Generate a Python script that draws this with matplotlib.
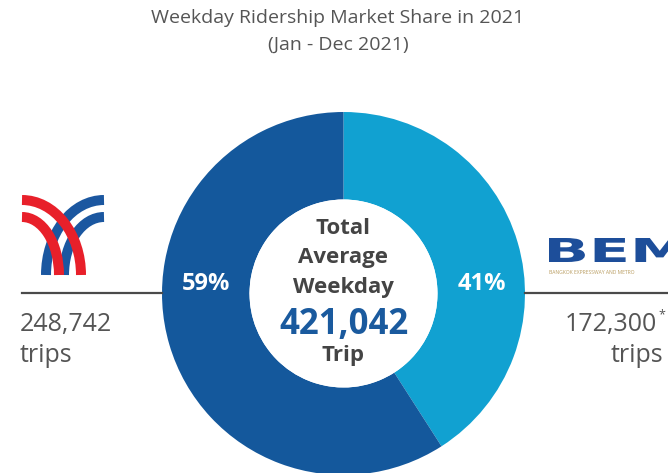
import matplotlib.pyplot as plt
from matplotlib.patches import Arc, Circle, PathPatch
from matplotlib.textpath import TextPath
from matplotlib.font_manager import FontProperties
from matplotlib.transforms import Affine2D

plt.rcParams['font.family'] = ['Open Sans', 'DejaVu Sans']

# ---------------- data ----------------
operators = ["BEM", "BTS"]
trips = [172300, 248742]
colors = ["#11a1d1", "#14589c"]
total_trips = 421042
shares = [round(100 * t / total_trips) for t in trips]

title = "Weekday Ridership Market Share in 2021"
subtitle = "(Jan - Dec 2021)"

W, H = 668, 473
fig = plt.figure(figsize=(W / 100, H / 100), dpi=100)
ax = fig.add_axes([0, 0, 1, 1])


def Y(y):
    # pixel row (from top) -> data y
    return H - y


# ---------------- donut ----------------
cx, cy = 343.5, 293.5
r_out, r_in = 181.5, 94
ax.pie(trips, colors=colors, center=(cx, Y(cy)), radius=r_out,
       startangle=90, counterclock=False,
       wedgeprops=dict(width=r_out - r_in, linewidth=0))
ax.add_patch(Circle((cx, Y(cy)), r_in, facecolor="white", edgecolor="none", zorder=3))

# percent labels inside the ring
ax.text(206, Y(284), f"{shares[1]}%", color="white", fontsize=17, fontweight="bold",
        ha="center", va="center", zorder=4)
ax.text(482, Y(284), f"{shares[0]}%", color="white", fontsize=17, fontweight="bold",
        ha="center", va="center", zorder=4)

# centre text
dark = "#444444"
ax.text(cx, Y(229), "Total", fontsize=16, fontweight="bold", color=dark, ha="center", va="center", zorder=4)
ax.text(cx, Y(258), "Average", fontsize=16, fontweight="bold", color=dark, ha="center", va="center", zorder=4)
ax.text(cx, Y(287), "Weekday", fontsize=16, fontweight="bold", color=dark, ha="center", va="center", zorder=4)
ax.text(cx, Y(325), f"{total_trips:,}", fontsize=25, fontweight="bold", color="#1a5a9e",
        ha="center", va="center", zorder=4)
ax.text(cx, Y(356), "Trip", fontsize=16, fontweight="bold", color=dark, ha="center", va="center", zorder=4)

# ---------------- title ----------------
ax.text(338, Y(18), title, fontsize=14, color="#555555", ha="center", va="center")
ax.text(338, Y(45), subtitle, fontsize=14, color="#555555", ha="center", va="center")

# ---------------- side lines + numbers ----------------
ax.plot([22, cx - r_out], [Y(293), Y(293)], color="#4a4a4a", lw=1.6, zorder=1)
ax.plot([cx + r_out, W], [Y(293), Y(293)], color="#4a4a4a", lw=1.6, zorder=1)

grey = "#555555"
ax.text(20, Y(325), f"{trips[1]:,}", fontsize=18, color=grey, ha="left", va="center")
ax.text(20, Y(355), "trips", fontsize=18, color=grey, ha="left", va="center")
ax.text(657, Y(325), f"{trips[0]:,}", fontsize=18, color=grey, ha="right", va="center")
ax.text(658, Y(315), "*", fontsize=9, color=grey, ha="left", va="center")
ax.text(663, Y(355), "trips", fontsize=18, color=grey, ha="right", va="center")

# ---------------- BTS logo (arcs) ----------------
lw_px = 10 / 1.389
base = Y(275)
for (x0, rx, ry) in [(104, 58, 75), (104, 40, 58)]:
    ax.add_patch(Arc((x0, base), 2 * rx, 2 * ry, theta1=90, theta2=180,
                     color="#1b57a0", lw=lw_px, capstyle="butt"))
for (x0, rx, ry) in [(22, 59, 75), (22, 37, 58)]:
    ax.add_patch(Arc((x0, base), 2 * rx, 2 * ry, theta1=0, theta2=90,
                     color="#e8202a", lw=lw_px, capstyle="butt"))

# ---------------- BEM logo ----------------
tp = TextPath((0, 0), "BEM", size=1, prop=FontProperties(family="DejaVu Sans", weight="bold"))
bb = tp.get_extents()
sx = 135 / bb.width
sy = 24 / bb.height
tr = Affine2D().translate(-bb.x0, -bb.y0).scale(sx, sy).translate(549, Y(262))
ax.add_patch(PathPatch(tr.transform_path(tp), facecolor="#1d4e9a", edgecolor="none"))
ax.text(549, Y(272), "BANGKOK EXPRESSWAY AND METRO", fontsize=3.6, color="#b89b5e",
        ha="left", va="center")

ax.set_xlim(0, W)
ax.set_ylim(0, H)
ax.set_aspect("equal")
ax.axis("off")

fig.savefig("out.png", dpi=100)
